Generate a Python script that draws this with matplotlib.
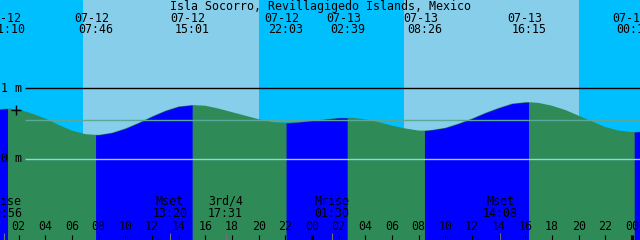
import numpy as np
import matplotlib
matplotlib.use('Agg')
import matplotlib.pyplot as plt

title = 'Isla Socorro, Revillagigedo Islands, Mexico'

hours = list(range(50))
height = [0.69, 0.71, 0.70, 0.64, 0.57, 0.48, 0.40, 0.35, 0.34, 0.37,
          0.43, 0.51, 0.60, 0.68, 0.74, 0.76, 0.75, 0.71, 0.66, 0.61,
          0.56, 0.52, 0.51, 0.52, 0.54, 0.56, 0.58, 0.58, 0.56, 0.52,
          0.47, 0.43, 0.40, 0.41, 0.44, 0.50, 0.57, 0.65, 0.72, 0.78,
          0.80, 0.79, 0.75, 0.69, 0.61, 0.53, 0.45, 0.40, 0.38, 0.39]

# highs and lows
ext_date = ['07-12', '07-12', '07-12', '07-12', '07-13', '07-13', '07-13', '07-14']
ext_time = ['01:10', '07:46', '15:01', '22:03', '02:39', '08:26', '16:15', '00:10']
ext_height = [0.71, 0.34, 0.76, 0.51, 0.58, 0.40, 0.80, 0.38]
ext_kind = ['high', 'low', 'high', 'low', 'high', 'low', 'high', 'low']

# sun
sunrise = [('07-12', '06:49'), ('07-13', '06:53')]
sunset = [('07-12', '20:03'), ('07-13', '20:03')]

# moon
moon_label = ['Mrise', 'Mset', '3rd/4', 'Mrise', 'Mset']
moon_date = ['07-12', '07-12', '07-12', '07-13', '07-13']
moon_time = ['00:56', '13:20', '17:31', '01:30', '14:08']

msl = 0.55

SKY_DAY = '#87ceeb'
SKY_NIGHT = '#00bfff'
RISE = '#0000ff'
FALL = '#2e8b57'

PXH = 640 / 48.0   # pixels per hour
PXM = 71.0         # pixels per metre
Y0 = 159.0         # pixel row of 0 m


def to_h(date, tm):
    day = int(date[3:]) - 12
    hh, mm = tm.split(':')
    return day * 24 + int(hh) + int(mm) / 60.0


def xh(px):
    return (px + 8) / PXH


def ym(py):
    return (Y0 - py) / PXM


fig = plt.figure(figsize=(6.4, 2.4), dpi=100)
fig.patch.set_facecolor(SKY_NIGHT)
ax = fig.add_axes([0, 0, 1, 1])
ax.set_xlim(xh(0), xh(640))
ax.set_ylim(ym(240), ym(0))
ax.axis('off')

# daylight
for (d1, t1), (d2, t2) in zip(sunrise, sunset):
    ax.axvspan(to_h(d1, t1), to_h(d2, t2), color=SKY_DAY, lw=0, zorder=0)

# tide curve
ext_t = [to_h(d, t) for d, t in zip(ext_date, ext_time)]
pts = sorted(zip(hours + ext_t, height + ext_height))
t_all = np.array([p[0] for p in pts])
h_all = np.array([p[1] for p in pts])
tt = np.linspace(t_all[0], t_all[-1], 4000)
hh = np.interp(tt, t_all, h_all)
bottom = ym(260)
ax.fill_between(tt, bottom, hh, color=FALL, lw=0, zorder=1)

rise_start = [t_all[0]] + [t for t, k in zip(ext_t, ext_kind) if k == 'low']
rise_end = [t for t, k in zip(ext_t, ext_kind) if k == 'high'] + [t_all[-1]]
for a, b in zip(rise_start, rise_end):
    m = (tt >= a) & (tt <= b)
    ax.fill_between(tt[m], bottom, hh[m], color=RISE, lw=0, zorder=2)

# reference lines
ax.hlines(1, xh(25), xh(640), color='black', lw=1.0, zorder=3)
ax.hlines(msl, xh(25), xh(640), color='#5aa89a', lw=1.0, zorder=3)
ax.hlines(0, xh(25), xh(640), color='#98d4dc', lw=1.0, zorder=3)

font = dict(family='DejaVu Sans Mono', size=8.4, color='black')
ax.text(xh(1), 1, '1 m', ha='left', va='center', zorder=4, **font)
ax.text(xh(1), 0, '0 m', ha='left', va='center', zorder=4, **font)
ax.plot([xh(16)], [ym(110)], marker='+', ms=7, mew=1.0, color='black', zorder=4)

# title and high/low labels
ax.text(xh(320), ym(6), title, ha='center', va='center', zorder=4, **font)
for t, d, tm in zip(ext_t, ext_date, ext_time):
    ax.text(t - 4 / PXH, ym(18), d, ha='center', va='center', zorder=4, **font)
    ax.text(t, ym(29.5), tm, ha='center', va='center', zorder=4, **font)

# moon events
for lab, d, tm in zip(moon_label, moon_date, moon_time):
    t = to_h(d, tm)
    ax.text(t, ym(201.5), lab, ha='center', va='center', zorder=4, **font)
    ax.text(t, ym(213.5), tm, ha='center', va='center', zorder=4, **font)
    ax.vlines(t, ym(233), ym(240), color='#707070', lw=0.8, zorder=4)

# hour ticks
for h in range(2, 49, 2):
    lw = 2.2 if h % 24 == 0 else 0.8
    ax.vlines(h, ym(235), ym(240), color='black', lw=lw, zorder=5)
    ax.text(h, ym(226), '%02d' % (h % 24), ha='center', va='center', zorder=4, **font)

plt.savefig('out.png', dpi=100, facecolor=fig.get_facecolor())
